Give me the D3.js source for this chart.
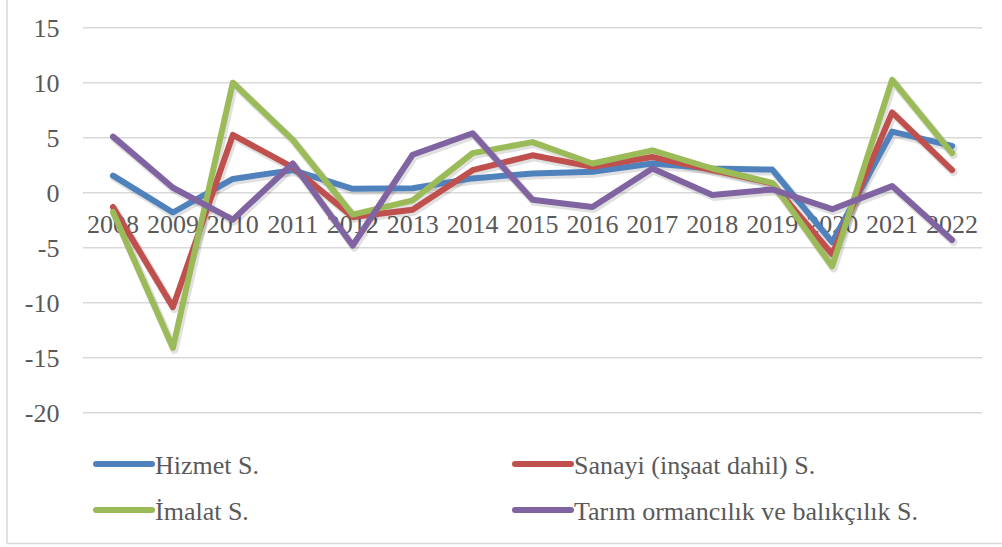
<!DOCTYPE html>
<html><head><meta charset="utf-8"><script src="https://cdn.jsdelivr.net/npm/d3@7"></script></head>
<body style="margin:0">
<svg id="chart" width="1002" height="547"></svg>
<script>
const years = ["2008","2009","2010","2011","2012","2013","2014","2015","2016","2017","2018","2019","2020","2021","2022"];
const hizmet  = [1.55, -1.8, 1.25, 2.05, 0.35, 0.4, 1.3, 1.75, 1.9, 2.65, 2.2, 2.1, -4.5, 5.55, 4.25];
const sanayi  = [-1.3, -10.4, 5.25, 2.3, -2.2, -1.55, 2.05, 3.4, 2.35, 3.25, 2.05, 0.85, -5.6, 7.3, 2.05];
const imalat  = [-1.75, -14.1, 10.0, 4.8, -2.0, -0.7, 3.6, 4.6, 2.65, 3.85, 2.2, 0.9, -6.7, 10.25, 3.6];
const tarim   = [5.1, 0.45, -2.45, 2.65, -4.8, 3.45, 5.4, -0.65, -1.3, 2.2, -0.2, 0.3, -1.5, 0.6, -4.3];
const yTicks  = [-20, -15, -10, -5, 0, 5, 10, 15];
const seriesNames  = ["Hizmet S.", "Sanayi (inşaat dahil) S.", "İmalat S.", "Tarım ormancılık ve balıkçılık S."];
const seriesValues = [hizmet, sanayi, imalat, tarim];
const seriesColors = ["#4F81BD", "#C0504D", "#9BBB59", "#8064A2"];

const svg = d3.select("#chart");
const plot = { left: 83, right: 982, top: 27.7, bottom: 412.7 };

svg.append("rect").attr("x", 7).attr("y", -10).attr("width", 1010).attr("height", 553.5)
  .attr("fill", "none").attr("stroke", "#D9D9D9").attr("stroke-width", 1.5);

const x = d3.scaleBand().domain(years).range([plot.left, plot.right]);
const y = d3.scaleLinear().domain([-20, 15]).range([plot.bottom, plot.top]);
const cx = d => x(d) + x.bandwidth() / 2;

svg.selectAll("line.grid").data(yTicks).join("line").attr("class", "grid")
  .attr("x1", plot.left).attr("x2", plot.right).attr("y1", d => y(d)).attr("y2", d => y(d))
  .attr("stroke", "#D9D9D9").attr("stroke-width", 1.5);
svg.selectAll("text.ylab").data(yTicks).join("text").attr("class", "ylab")
  .attr("x", 59.5).attr("y", d => y(d) + 9)
  .attr("text-anchor", "end").attr("font-size", 26).attr("font-family", "'Times New Roman'").attr("fill", "#595959")
  .text(d => String(d));

svg.selectAll("text.xlab").data(years).join("text").attr("class", "xlab")
  .attr("x", d => cx(d)).attr("y", y(0) + 40)
  .attr("text-anchor", "middle").attr("font-size", 26).attr("font-family", "'Times New Roman'").attr("fill", "#595959")
  .text(d => d);

const line = d3.line().x((d, i) => cx(years[i])).y(d => y(d));
// soft shadow (offset translucent copies)
seriesValues.forEach((vals) => {
  svg.append("path").datum(vals).attr("d", line).attr("transform", "translate(1.5,2)")
    .attr("fill", "none").attr("stroke", "#000").attr("stroke-opacity", 0.12).attr("stroke-width", 8)
    .attr("stroke-linejoin", "round").attr("stroke-linecap", "round");
});
seriesValues.forEach((vals, k) => {
  svg.append("path").datum(vals).attr("d", line)
    .attr("fill", "none").attr("stroke", seriesColors[k]).attr("stroke-width", 6)
    .attr("stroke-linejoin", "round").attr("stroke-linecap", "round");
});

const legPos = [[96, 464], [515, 464], [96, 510], [515, 510]];
seriesNames.forEach((name, k) => {
  const [lx, ly] = legPos[k];
  svg.append("line").attr("x1", lx).attr("x2", lx + 56).attr("y1", ly).attr("y2", ly)
    .attr("stroke", seriesColors[k]).attr("stroke-width", 6).attr("stroke-linecap", "round");
  svg.append("text").attr("x", lx + 59).attr("y", ly + 9.5).attr("font-size", 26)
    .attr("font-family", "'Times New Roman'").attr("fill", "#595959").text(name);
});
</script>
</body>
</html>
